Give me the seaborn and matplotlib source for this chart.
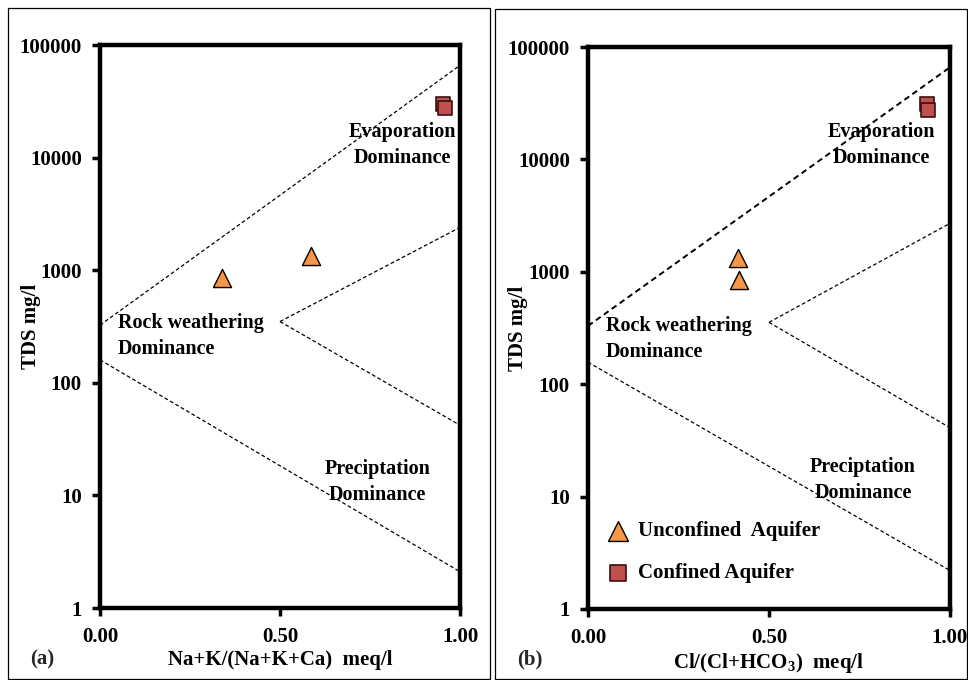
import matplotlib
matplotlib.use("Agg")
import matplotlib.pyplot as plt
import seaborn as sns
import pandas as pd
from matplotlib.patches import Rectangle
from matplotlib.ticker import FixedLocator, FixedFormatter

sns.set_theme(style="white")
plt.rcParams['font.family'] = ['Liberation Serif', 'DejaVu Serif']
plt.rcParams['font.weight'] = 'bold'
plt.rcParams['mathtext.fontset'] = 'custom'
plt.rcParams['mathtext.rm'] = 'Liberation Serif:bold'
plt.rcParams['mathtext.bf'] = 'Liberation Serif:bold'

# ---------------- data ----------------
groups = ["Unconfined  Aquifer", "Confined Aquifer"]

# panel (a): Na+K/(Na+K+Ca)
a_unconf_x = [0.34, 0.585]
a_unconf_y = [850, 1340]
a_conf_x = [0.953, 0.957]
a_conf_y = [30000, 27500]

# panel (b): Cl/(Cl+HCO3)
b_unconf_x = [0.415, 0.418]
b_unconf_y = [1320, 850]
b_conf_x = [0.936, 0.938]
b_conf_y = [31000, 27500]

# Gibbs boundary lines (x, y)
a_upper_x, a_upper_y = [0.0, 1.0], [325, 66000]
a_mid_x, a_mid_y = [0.5, 1.0], [350, 2400]
a_low_x, a_low_y = [0.5, 1.0], [350, 42]
a_bot_x, a_bot_y = [0.0, 1.0], [160, 2.1]

b_upper_x, b_upper_y = [0.0, 1.0], [330, 66000]
b_mid_x, b_mid_y = [0.5, 1.0], [355, 2700]
b_low_x, b_low_y = [0.5, 1.0], [355, 41]
b_bot_x, b_bot_y = [0.0, 1.0], [157, 2.2]

y_ticks = [1, 10, 100, 1000, 10000, 100000]
y_tick_labels = ["1", "10", "100", "1000", "10000", "100000"]
x_ticks = [0.0, 0.5, 1.0]
x_tick_labels = ["0.00", "0.50", "1.00"]

xlabels = ["Na+K/(Na+K+Ca)  meq/l", r"Cl/(Cl+HCO$_3$)  meq/l"]
panel_tags = ["(a)", "(b)"]

orange = "#F79646"
red = "#C0504D"

fig = plt.figure(figsize=(9.68, 6.8), dpi=100)
W, H = 968, 680

def fx(px):
    return px / W

def fy(py):
    return 1 - py / H

# outer frames
fig.add_artist(Rectangle((fx(8), fy(679)), fx(482), (671) / H, transform=fig.transFigure,
                         fill=False, lw=0.9, ec="black"))
fig.add_artist(Rectangle((fx(495), fy(679)), fx(472), (670) / H, transform=fig.transFigure,
                         fill=False, lw=0.9, ec="black"))

ax_a = fig.add_axes([fx(100), fy(608), fx(460 - 100), (608 - 45) / H])
ax_b = fig.add_axes([fx(588), fy(609), fx(950 - 588), (609 - 47) / H])

panels = [
    (ax_a, a_unconf_x, a_unconf_y, a_conf_x, a_conf_y,
     [(a_upper_x, a_upper_y, 0.9), (a_mid_x, a_mid_y, 0.9), (a_low_x, a_low_y, 0.9), (a_bot_x, a_bot_y, 0.9)]),
    (ax_b, b_unconf_x, b_unconf_y, b_conf_x, b_conf_y,
     [(b_upper_x, b_upper_y, 1.4), (b_mid_x, b_mid_y, 0.9), (b_low_x, b_low_y, 0.9), (b_bot_x, b_bot_y, 0.9)]),
]

for i, (ax, ux, uy, cx, cy, lines) in enumerate(panels):
    ax.set_yscale("log")
    ax.set_xlim(0, 1)
    ax.set_ylim(1, 100000)
    for lx, ly, lw in lines:
        ax.plot(lx, ly, color="black", lw=lw, ls=(0, (3, 2)), zorder=2)
    df_c = pd.DataFrame({"x": cx, "y": cy, "g": groups[1]})
    df_u = pd.DataFrame({"x": ux, "y": uy, "g": groups[0]})
    sns.scatterplot(data=df_c, x="x", y="y", marker="s", s=110, color=red,
                    edgecolor="#3a1010", linewidth=1.2, ax=ax, zorder=3,
                    label=groups[1] if i == 1 else None, legend=False)
    sns.scatterplot(data=df_u, x="x", y="y", marker="^", s=170, color=orange,
                    edgecolor="black", linewidth=1.0, ax=ax, zorder=3,
                    label=groups[0] if i == 1 else None, legend=False)

    ax.yaxis.set_major_locator(FixedLocator(y_ticks))
    ax.yaxis.set_major_formatter(FixedFormatter(y_tick_labels))
    ax.yaxis.set_minor_locator(FixedLocator([]))
    ax.set_xticks(x_ticks)
    ax.set_xticklabels(x_tick_labels)
    ax.tick_params(axis="both", which="major", direction="out", length=6, width=2.5,
                   labelsize=15, color="black", labelcolor="black", left=True, bottom=True)
    ax.tick_params(axis="y", pad=7)
    ax.tick_params(axis="x", pad=8)
    for lab in ax.get_xticklabels() + ax.get_yticklabels():
        lab.set_fontweight("bold")
    for sp in ax.spines.values():
        sp.set_linewidth(3.2)
        sp.set_color("black")
        sp.set_visible(True)
    ax.set_ylabel("TDS mg/l", fontsize=15, fontweight="bold", color="black")
    ax.yaxis.set_label_coords(-0.165, 0.5)
    ax.set_xlabel(xlabels[i], fontsize=15, fontweight="bold", color="black")
    ax.xaxis.set_label_coords(0.5, -0.075)
    ax.grid(False)
    ax.set_facecolor("white")

# region texts
txt = dict(fontsize=14.5, fontweight="bold", color="black", linespacing=1.4)
ax_a.text(0.84, 10 ** 4.11, "Evaporation\nDominance", ha="center", va="center", **txt)
ax_a.text(0.05, 10 ** 2.42, "Rock weathering\nDominance", ha="left", va="center", **txt)
ax_a.text(0.77, 10 ** 1.12, "Preciptation\nDominance", ha="center", va="center", **txt)
ax_b.text(0.81, 10 ** 4.13, "Evaporation\nDominance", ha="center", va="center", **txt)
ax_b.text(0.05, 10 ** 2.40, "Rock weathering\nDominance", ha="left", va="center", **txt)
ax_b.text(0.76, 10 ** 1.15, "Preciptation\nDominance", ha="center", va="center", **txt)

# legend
h, l = ax_b.get_legend_handles_labels()
order = [l.index(groups[0]), l.index(groups[1])]
leg = ax_b.legend([h[k] for k in order], [l[k] for k in order], loc="lower left",
                  bbox_to_anchor=(0.0, 0.02), frameon=False,
                  handletextpad=0.2, handlelength=1.5, labelspacing=1.05, borderaxespad=0.3,
                  markerscale=1.1, prop={"weight": "bold", "size": 15})
for t in leg.get_texts():
    t.set_color("black")

fig.text(fx(30), fy(659), panel_tags[0], fontsize=15, fontweight="bold", ha="left", va="center")
fig.text(fx(517), fy(659), panel_tags[1], fontsize=15, fontweight="bold", ha="left", va="center")

fig.savefig("out.png", dpi=100, facecolor="white")
